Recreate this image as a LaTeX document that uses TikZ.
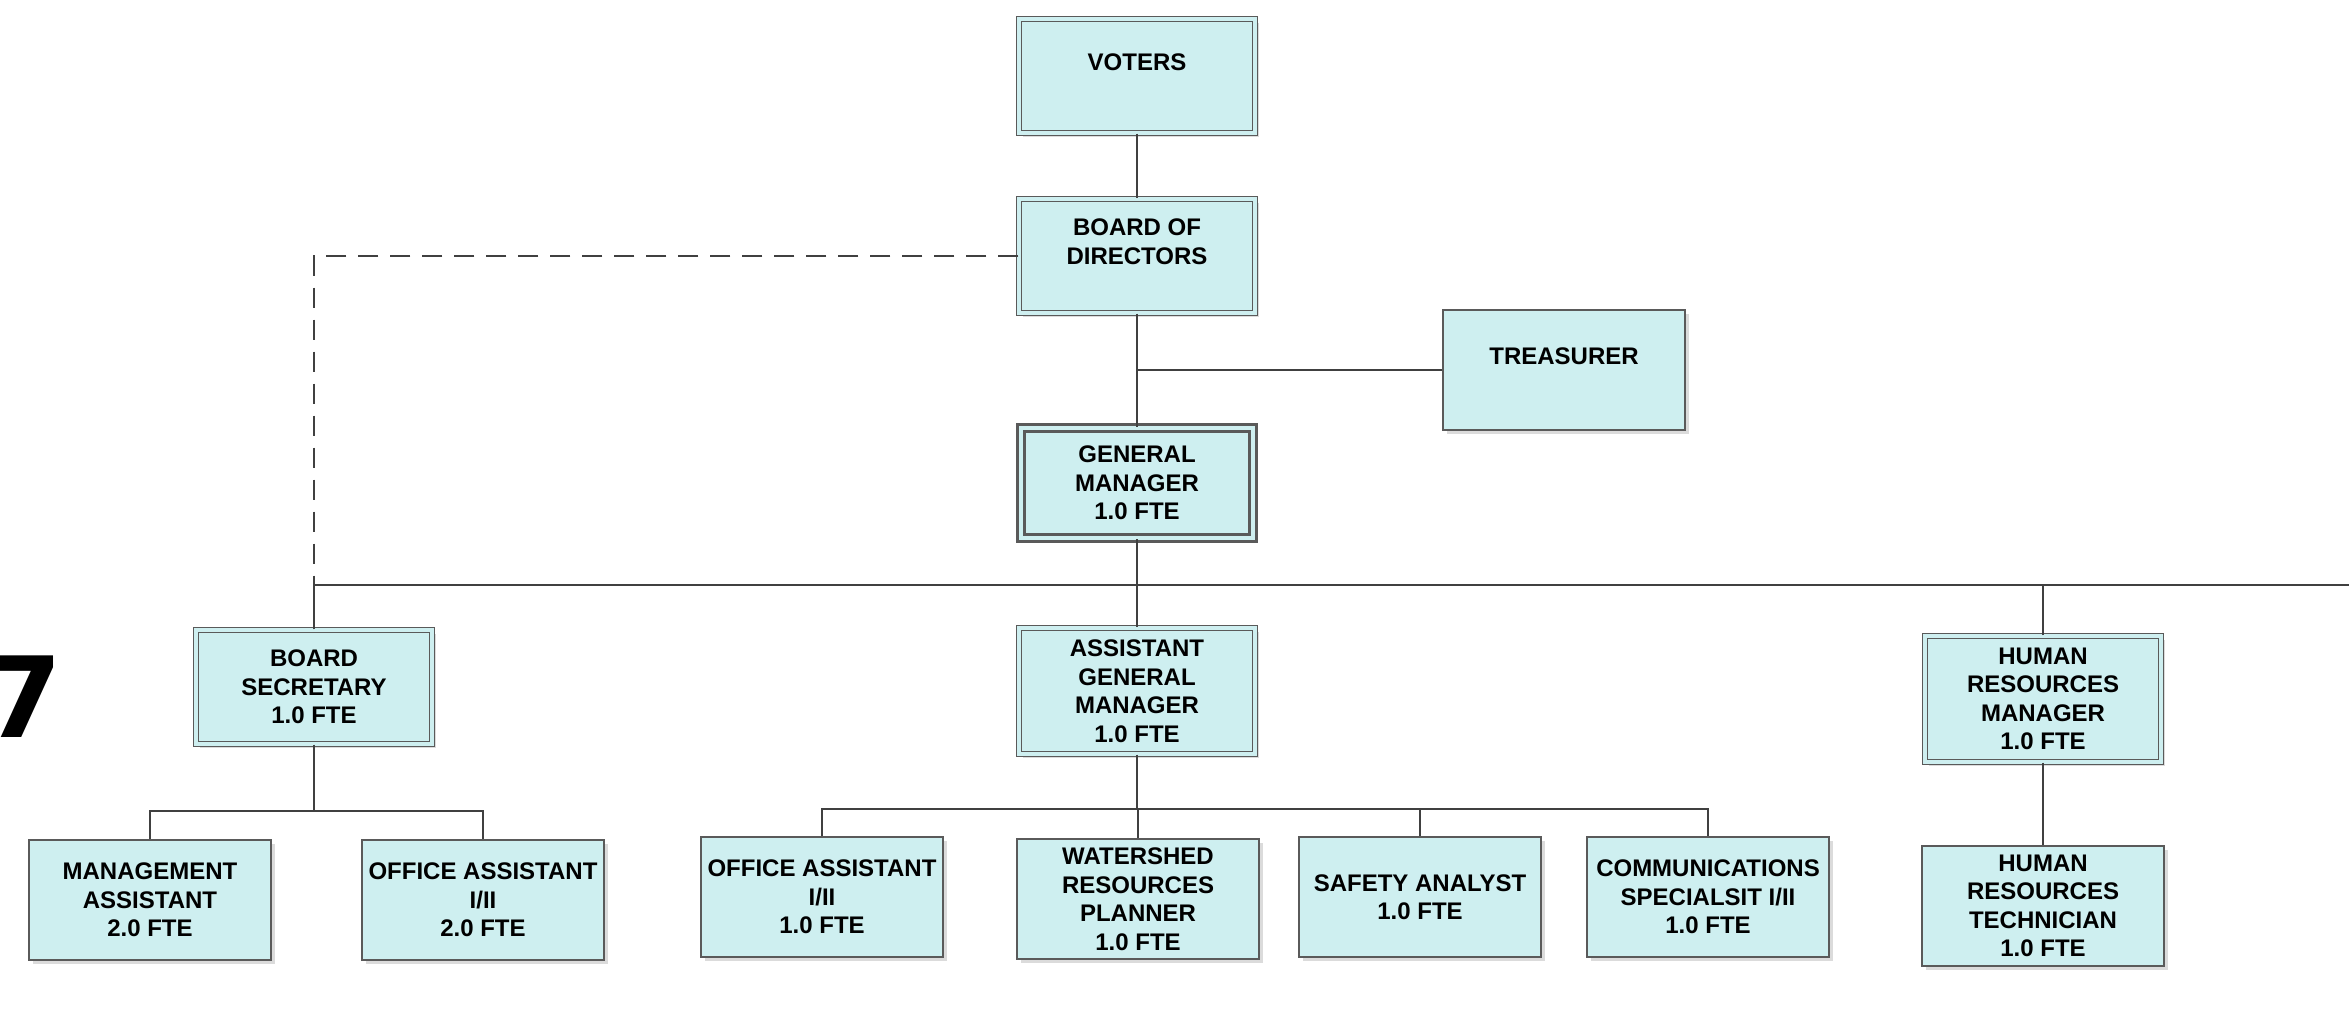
\documentclass[tikz,border=0pt]{standalone}
\usepackage{fontspec}
\setmainfont{Liberation Sans}
\newfontfamily\numfont{DejaVu Sans}
\usetikzlibrary{shadows}

\definecolor{boxfill}{RGB}{206,239,240}
\definecolor{boxline}{RGB}{90,90,90}
\definecolor{linkline}{RGB}{64,64,64}

\begin{document}
\begin{tikzpicture}[x=0.5pt,y=-0.5pt,
    post/.style={rectangle, fill=boxfill, draw=boxline, line width=0.6pt,
      minimum width=121pt, minimum height=60pt, inner sep=0pt, align=center,
      font=\bfseries\fontsize{12}{14.25}\selectfont,
      drop shadow={shadow xshift=2pt, shadow yshift=-2pt, fill=black!14, opacity=1}},
    dpost/.style={post, double=boxfill, double distance=1.6pt,
      minimum width=118pt, minimum height=57pt},
    gmpost/.style={dpost, line width=1.4pt, double distance=2pt,
      minimum width=116pt, minimum height=55pt},
    tall/.style={minimum height=63pt},
    link/.style={draw=linkline, line width=1.4pt}]
\useasboundingbox (0,0) rectangle (2349,1015);

% page number cut at the left edge
  \node[anchor=base east, inner sep=0pt, font=\numfont\bfseries\fontsize{56}{60}\selectfont] (pageno) at (63,737) {7};

% define the boxes
  \node[dpost]  (voters) at (1137,76)  {VOTERS\\\phantom{X}};
  \node[dpost]  (board)  at (1137,256) {BOARD OF\\DIRECTORS\\\phantom{X}};
  \node[post]   (treas)  at (1564,370) {TREASURER\\\phantom{X}};
  \node[gmpost] (gm)     at (1137,483) {GENERAL\\MANAGER\\1.0 FTE};

  \node[dpost]       (bsec) at (314,687)  {BOARD\\SECRETARY\\1.0 FTE};
  \node[dpost, tall] (agm)  at (1137,691) {ASSISTANT\\GENERAL\\MANAGER\\1.0 FTE};
  \node[dpost, tall] (hrm)  at (2043,699) {HUMAN\\RESOURCES\\MANAGER\\1.0 FTE};

  \node[post] (mgmt) at (150,900)  {MANAGEMENT\\ASSISTANT\\2.0 FTE};
  \node[post] (oaa)  at (483,900)  {OFFICE ASSISTANT\\I/II\\2.0 FTE};
  \node[post] (oab)  at (822,897)  {OFFICE ASSISTANT\\I/II\\1.0 FTE};
  \node[post] (wsp)  at (1138,899) {WATERSHED\\RESOURCES\\PLANNER\\1.0 FTE};
  \node[post] (safe) at (1420,897) {SAFETY ANALYST\\1.0 FTE};
  \node[post] (comm) at (1708,897) {COMMUNICATIONS\\SPECIALSIT I/II\\1.0 FTE};
  \node[post] (hrt)  at (2043,906) {HUMAN\\RESOURCES\\TECHNICIAN\\1.0 FTE};

% bus points
  \coordinate (mainbus) at (2349,585);
  \coordinate (secbus)  at (314,811);
  \coordinate (agmbus)  at (1137,809);

% define the links
  \path[link] (voters) edge (board)
        (board) edge (gm)
        (treas.west) edge (treas.west -| gm.north)
        (gm) edge (agm)
        (hrm) edge (hrm.north |- mainbus)
        (hrm) edge (hrt)
        (bsec) edge (secbus)
        (agm) edge (agmbus)
        (wsp) edge (wsp.north |- agmbus)
        (safe) edge (safe.north |- agmbus);
  \draw[link] (bsec.north) -- (bsec.north |- mainbus) -- (mainbus);
  \draw[link] (mgmt.north) |- (secbus) -| (oaa.north);
  \draw[link] (oab.north) |- (agmbus) -| (comm.north);
  \draw[link, dash pattern=on 10pt off 6pt] (board.west) -| (bsec.north |- mainbus);

\end{tikzpicture}
\end{document}
